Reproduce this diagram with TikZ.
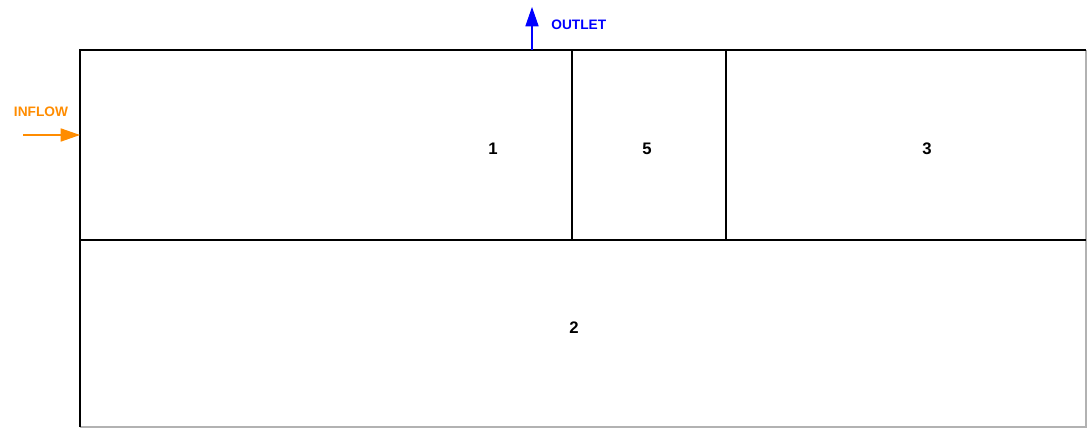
\documentclass[tikz,border=0pt]{standalone}
\usepackage{fontspec}
\setmainfont{Liberation Sans}
\usetikzlibrary{positioning, arrows.meta, calc}
\tikzset{
  wall/.style={line width=1.1pt, draw=black},
  edge/.style={line width=0.6pt, draw=black!30},
  zone/.style={font=\bfseries\fontsize{9.5}{11}\selectfont, inner sep=0pt},
  flowlabel/.style={font=\bfseries\fontsize{7.8}{9}\selectfont, inner sep=0pt},
  arrow/.style={line width=0.6pt, -{Triangle[length=11pt, width=7.5pt]}}
}
\definecolor{inflowc}{RGB}{255,140,0}
\definecolor{outletc}{RGB}{0,0,255}

\begin{document}
\begin{tikzpicture}[x=0.02cm, y=-0.02cm]
    \useasboundingbox (0,0) rectangle (1087,428);

    % Esquinas del dominio
    \coordinate (TL) at (80, 50);
    \coordinate (TR) at (1086, 50);
    \coordinate (BL) at (80, 427);
    \coordinate (BR) at (1086, 427);
    \coordinate (ML) at (80, 240);
    \coordinate (MR) at (1086, 240);
    \coordinate (D1T) at (572, 50);
    \coordinate (D1B) at (572, 240);
    \coordinate (D2T) at (726, 50);
    \coordinate (D2B) at (726, 240);

    % Bordes cortados (derecha e inferior)
    \draw[edge] (TR) -- (BR) -- (BL);

    % Paredes
    \draw[wall] (BL) -- (TL) -- (TR);
    \draw[wall] (ML) -- (MR);
    \draw[wall] (D1T) -- (D1B);
    \draw[wall] (D2T) -- (D2B);

    % Zonas
    \node[zone] (Z1) at (493, 149) {1};
    \node[zone] (Z5) at (647, 149) {5};
    \node[zone] (Z3) at (927, 149) {3};
    \node[zone] (Z2) at (574, 328) {2};

    % Entrada
    \coordinate (INs) at (23, 135);
    \coordinate (INe) at (80, 135);
    \draw[arrow, inflowc] (INs) -- (INe);
    \node[flowlabel, text=inflowc] (LIN) at (41, 112) {INFLOW};

    % Salida
    \coordinate (OUTs) at (532, 50);
    \coordinate (OUTe) at (532, 7);
    \draw[arrow, outletc] (OUTs) -- (OUTe);
    \node[flowlabel, text=outletc, anchor=west] (LOUT) at (551, 25) {OUTLET};

\end{tikzpicture}
\end{document}
